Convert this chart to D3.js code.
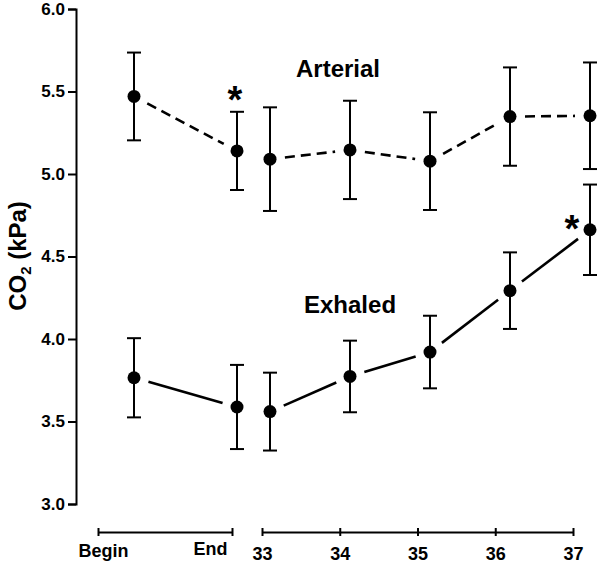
<!DOCTYPE html>
<html>
<head>
<meta charset="utf-8">
<script src="https://cdn.jsdelivr.net/npm/d3@7"></script>
<style>
  html, body { margin: 0; padding: 0; background: #fff; }
  svg { display: block; font-family: "Liberation Sans", Arial, sans-serif; }
</style>
</head>
<body>
<svg id="chart" width="600" height="566"></svg>
<script>
// ---------- data ----------
const phases = ["Begin", "End"];
const temps = [33, 34, 35, 36, 37];
const yTicks = [3.0, 3.5, 4.0, 4.5, 5.0, 5.5, 6.0];

const arterialPhaseMean = [5.47, 5.14];
const arterialPhaseErr  = [0.266, 0.237];
const arterialTempMean  = [5.09, 5.146, 5.078, 5.348, 5.353];
const arterialTempErr   = [0.314, 0.298, 0.296, 0.298, 0.323];

const exhaledPhaseMean = [3.765, 3.588];
const exhaledPhaseErr  = [0.24, 0.255];
const exhaledTempMean  = [3.56, 3.773, 3.921, 4.293, 4.662];
const exhaledTempErr   = [0.236, 0.217, 0.22, 0.232, 0.274];

const seriesNames = ["Arterial", "Exhaled"];

// ---------- layout ----------
const svg = d3.select("#chart");
const y = d3.scaleLinear().domain([3, 6]).range([504, 9]);
const xPhase = d3.scalePoint().domain(phases).range([134, 237]);
const xTemp = d3.scaleLinear().domain([33, 37]).range([270, 590]);
const xPhaseAxis = d3.scalePoint().domain(phases).range([98, 232]);
const xTempAxis = d3.scaleLinear().domain([33, 37]).range([262, 573]);

const axisY = 532;
const sw = 2;

// y axis
const gy = svg.append("g").attr("transform", "translate(76,0)")
  .call(d3.axisLeft(y).tickValues(yTicks).tickFormat(d3.format(".1f")).tickSizeOuter(0).tickSize(8).tickPadding(3));
gy.select(".domain").attr("stroke", "#000").attr("stroke-width", sw);
gy.selectAll(".tick line").attr("stroke", "#000").attr("stroke-width", sw);
gy.selectAll(".tick text").attr("font-size", 17).attr("font-weight", "bold").attr("fill", "#000")
  .attr("font-family", "Liberation Sans, Arial, sans-serif");

// y title
const yt = svg.append("text")
  .attr("transform", "translate(26,256) rotate(-90)")
  .attr("text-anchor", "middle")
  .attr("font-size", 24).attr("font-weight", "bold").attr("fill", "#000");
yt.append("tspan").text("CO");
yt.append("tspan").attr("font-size", 15).attr("dy", 5).text("2");
yt.append("tspan").attr("dy", -5).text(" (kPa)");

// x axes
function styleX(g) {
  g.select(".domain").attr("stroke", "#000").attr("stroke-width", sw);
  g.selectAll(".tick line").remove();
  g.selectAll(".tick").append("line").attr("y1", -4).attr("y2", 4).attr("stroke", "#000").attr("stroke-width", sw);
  g.selectAll(".tick text").attr("font-size", 18).attr("font-weight", "bold").attr("fill", "#000")
    .attr("font-family", "Liberation Sans, Arial, sans-serif").attr("y", 15);
}
const gxp = svg.append("g").attr("transform", `translate(0,${axisY})`)
  .call(d3.axisBottom(xPhaseAxis).tickSizeOuter(0).tickSize(0));
styleX(gxp);
gxp.selectAll(".tick text")
  .attr("text-anchor", (d, i) => i === 0 ? "start" : "end")
  .attr("x", (d, i) => i === 0 ? -20 : -5)
  .attr("y", (d, i) => i === 0 ? 12 : 10)
  .attr("dy", "0.71em");
const gxt = svg.append("g").attr("transform", `translate(0,${axisY})`)
  .call(d3.axisBottom(xTempAxis).tickValues(temps).tickFormat(d3.format("d")).tickSizeOuter(0).tickSize(0));
styleX(gxt);

// ---------- series ----------
function buildSeries(phaseMean, phaseErr, tempMean, tempErr) {
  const a = phases.map((p, i) => ({ x: xPhase(p), m: phaseMean[i], e: phaseErr[i] }));
  const b = temps.map((t, i) => ({ x: xTemp(t), m: tempMean[i], e: tempErr[i] }));
  return [a, b];
}
const arterial = buildSeries(arterialPhaseMean, arterialPhaseErr, arterialTempMean, arterialTempErr);
const exhaled = buildSeries(exhaledPhaseMean, exhaledPhaseErr, exhaledTempMean, exhaledTempErr);

const gap = 15;
function drawSeries(segs, dash) {
  const g = svg.append("g");
  segs.forEach(pts => {
    for (let i = 0; i < pts.length - 1; i++) {
      const x1 = pts[i].x, y1 = y(pts[i].m), x2 = pts[i + 1].x, y2 = y(pts[i + 1].m);
      const L = Math.hypot(x2 - x1, y2 - y1);
      const ux = (x2 - x1) / L, uy = (y2 - y1) / L;
      g.append("line")
        .attr("x1", x1 + ux * gap).attr("y1", y1 + uy * gap)
        .attr("x2", x2 - ux * gap).attr("y2", y2 - uy * gap)
        .attr("stroke", "#000").attr("stroke-width", 2.6)
        .attr("stroke-dasharray", dash);
    }
    pts.forEach(p => {
      g.append("line").attr("x1", p.x).attr("x2", p.x).attr("y1", y(p.m + p.e)).attr("y2", y(p.m - p.e))
        .attr("stroke", "#000").attr("stroke-width", sw);
      [p.m + p.e, p.m - p.e].forEach(v => {
        g.append("line").attr("x1", p.x - 7).attr("x2", p.x + 7).attr("y1", y(v)).attr("y2", y(v))
          .attr("stroke", "#000").attr("stroke-width", sw);
      });
      g.append("circle").attr("cx", p.x).attr("cy", y(p.m)).attr("r", 6.5).attr("fill", "#000");
    });
  });
}
drawSeries(arterial, "10,6");
drawSeries(exhaled, null);

// series labels
svg.append("text").attr("x", 296).attr("y", y(5.59)).attr("font-size", 24).attr("font-weight", "bold")
  .attr("fill", "#000").text(seriesNames[0]);
svg.append("text").attr("x", 304).attr("y", y(4.157)).attr("font-size", 24).attr("font-weight", "bold")
  .attr("fill", "#000").text(seriesNames[1]);

// significance asterisks
const aEnd = arterial[0][1];
svg.append("text").attr("x", aEnd.x - 2).attr("y", y(aEnd.m + aEnd.e) + 1)
  .attr("text-anchor", "middle").attr("font-size", 38).attr("font-weight", "bold").attr("fill", "#000").text("*");
const e37 = exhaled[1][4];
svg.append("text").attr("x", e37.x - 18).attr("y", y(e37.m) + 12)
  .attr("text-anchor", "middle").attr("font-size", 38).attr("font-weight", "bold").attr("fill", "#000").text("*");
</script>
</body>
</html>
